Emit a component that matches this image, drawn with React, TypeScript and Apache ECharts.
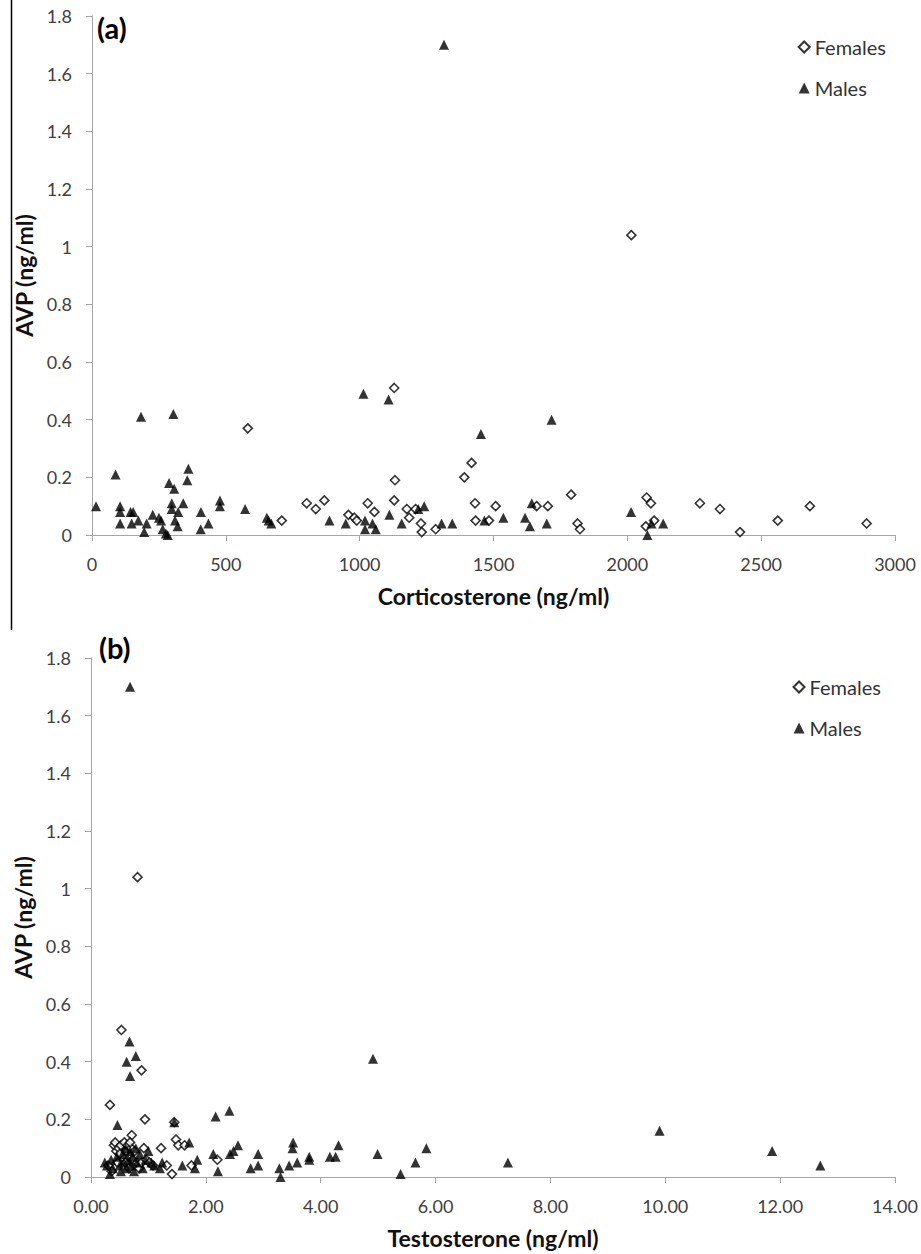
import React, { useEffect, useRef } from "react";
import * as echarts from "echarts";

// (a) Corticosterone (ng/ml) vs AVP (ng/ml)
const corticoFemales: number[][] = [
  [582, 0.37], [709, 0.05], [802, 0.11], [836, 0.09], [868, 0.12], [958, 0.07], [980, 0.06],
  [989, 0.05], [1030, 0.11], [1055, 0.08], [1132, 0.19], [1129, 0.12], [1129, 0.51], [1176, 0.09],
  [1185, 0.06], [1209, 0.09], [1229, 0.04], [1232, 0.01], [1284, 0.02], [1391, 0.2], [1418, 0.25],
  [1431, 0.11], [1433, 0.05], [1483, 0.05], [1508, 0.1], [1661, 0.1], [1703, 0.1], [1790, 0.14],
  [1814, 0.04], [1823, 0.02], [2015, 1.04], [2072, 0.13], [2088, 0.11], [2069, 0.03], [2100, 0.05],
  [2271, 0.11], [2346, 0.09], [2421, 0.01], [2562, 0.05], [2682, 0.1], [2894, 0.04],
];
const corticoMales: number[][] = [
  [15, 0.1], [88, 0.21], [105, 0.1], [105, 0.08], [105, 0.04], [144, 0.08], [154, 0.08], [148, 0.04],
  [173, 0.05], [183, 0.41], [195, 0.01], [204, 0.04], [227, 0.07], [250, 0.06], [258, 0.05],
  [264, 0.02], [276, 0.005], [283, 0.0], [288, 0.18], [307, 0.16], [298, 0.11], [298, 0.09],
  [304, 0.42], [322, 0.08], [341, 0.11], [310, 0.05], [320, 0.03], [360, 0.23], [356, 0.19],
  [407, 0.08], [406, 0.02], [435, 0.04], [478, 0.12], [478, 0.1], [572, 0.09], [653, 0.06],
  [660, 0.05], [670, 0.04], [887, 0.05], [948, 0.04], [1014, 0.49], [1020, 0.05], [1020, 0.02],
  [1048, 0.04], [1060, 0.02], [1108, 0.47], [1111, 0.07], [1157, 0.04], [1219, 0.09], [1241, 0.1],
  [1306, 0.04], [1315, 1.7], [1346, 0.04], [1453, 0.35], [1466, 0.05], [1537, 0.06], [1618, 0.06],
  [1636, 0.03], [1643, 0.11], [1699, 0.04], [1717, 0.4], [2014, 0.08], [2075, 0.0], [2090, 0.04],
  [2134, 0.04],
];

// (b) Testosterone (ng/ml) vs AVP (ng/ml)
const testoFemales: number[][] = [
  [0.53, 0.51], [0.81, 1.04], [0.88, 0.37], [0.33, 0.25], [0.94, 0.2], [1.45, 0.19], [1.48, 0.13],
  [1.52, 0.11], [1.63, 0.11], [1.75, 0.04], [2.2, 0.06], [0.71, 0.145], [1.22, 0.1], [1.32, 0.04],
  [1.41, 0.01], [0.3, 0.04], [0.36, 0.02], [0.4, 0.11], [0.42, 0.12], [0.44, 0.09], [0.46, 0.05],
  [0.48, 0.1], [0.52, 0.11], [0.55, 0.07], [0.58, 0.12], [0.6, 0.05], [0.62, 0.09], [0.64, 0.11],
  [0.66, 0.03], [0.7, 0.1], [0.73, 0.06], [0.76, 0.09], [0.8, 0.05], [0.84, 0.03], [0.88, 0.05],
  [0.92, 0.1], [0.96, 0.06], [1.02, 0.05], [1.08, 0.04], [0.5, 0.08], [0.68, 0.12],
];
const testoMales: number[][] = [
  [0.68, 1.7], [0.67, 0.47], [0.62, 0.4], [0.78, 0.42], [0.68, 0.35], [0.46, 0.18], [1.45, 0.19],
  [1.71, 0.12], [1.59, 0.04], [1.81, 0.03], [1.85, 0.06], [2.17, 0.21], [2.41, 0.23], [2.13, 0.08],
  [2.21, 0.02], [2.42, 0.08], [2.48, 0.09], [2.56, 0.11], [2.78, 0.03], [2.91, 0.08], [2.91, 0.04],
  [3.28, 0.03], [3.3, 0.0], [3.45, 0.04], [3.52, 0.12], [3.51, 0.1], [3.59, 0.05], [3.8, 0.07],
  [3.8, 0.06], [4.16, 0.07], [4.26, 0.07], [4.31, 0.11], [4.91, 0.41], [4.99, 0.08], [5.39, 0.01],
  [5.65, 0.05], [5.84, 0.1], [7.26, 0.05], [9.9, 0.16], [11.86, 0.09], [12.7, 0.04], [1.24, 0.05],
  [1.2, 0.03], [0.24, 0.05], [0.28, 0.04], [0.33, 0.01], [0.35, 0.06], [0.38, 0.03], [0.45, 0.07],
  [0.5, 0.04], [0.52, 0.02], [0.55, 0.08], [0.57, 0.05], [0.6, 0.1], [0.62, 0.03], [0.65, 0.06],
  [0.68, 0.09], [0.7, 0.04], [0.72, 0.07], [0.75, 0.02], [0.78, 0.1], [0.8, 0.05], [0.85, 0.08],
  [0.9, 0.03], [0.95, 0.06], [1.0, 0.09], [1.05, 0.05], [1.1, 0.04],
];

const yTicksMax = 1.8;
const corticoMax = 3000;
const testoMax = 14;

const FONT = "Lato, 'Open Sans', 'DejaVu Sans', sans-serif";
const AXIS_COLOR = "#a6a6a6";
const LABEL_COLOR = "#404040";

function makeAxes(gridIndex: number, xMax: number, xInterval: number, xName: string, xFmt: (v: number) => string) {
  const xAxis = {
    type: "value",
    gridIndex,
    min: 0,
    max: xMax,
    interval: xInterval,
    name: xName,
    nameLocation: "middle",
    nameGap: 49,
    nameTextStyle: { fontFamily: FONT, fontWeight: "bold", fontSize: 23, color: "#111" },
    axisLine: { show: true, lineStyle: { color: AXIS_COLOR, width: 1 } },
    axisTick: { show: true, length: 6, lineStyle: { color: AXIS_COLOR } },
    axisLabel: { margin: 20, fontSize: 18, color: LABEL_COLOR, fontFamily: FONT, formatter: xFmt },
    splitLine: { show: false },
  };
  const yAxis = {
    type: "value",
    gridIndex,
    min: 0,
    max: yTicksMax,
    interval: 0.2,
    name: "AVP (ng/ml)",
    nameLocation: "middle",
    nameGap: 52,
    nameTextStyle: { fontFamily: FONT, fontWeight: "bold", fontSize: 23, color: "#111" },
    axisLine: { show: true, lineStyle: { color: AXIS_COLOR, width: 1 } },
    axisTick: { show: true, length: 6, lineStyle: { color: AXIS_COLOR } },
    axisLabel: {
      margin: 20,
      fontSize: 18,
      color: LABEL_COLOR,
      fontFamily: FONT,
      formatter: (v: number) => String(+v.toFixed(1)),
    },
    splitLine: { show: false },
  };
  return { xAxis, yAxis };
}

export default function App() {
  const ref = useRef<HTMLDivElement>(null);
  useEffect(() => {
    if (!ref.current) return;
    const chart = echarts.init(ref.current, undefined, { renderer: "svg" });
    const a = makeAxes(0, corticoMax, 500, "Corticosterone (ng/ml)", (v: number) => String(v));
    const b = makeAxes(1, testoMax, 2, "Testosterone (ng/ml)", (v: number) => v.toFixed(2));
    const femaleStyle = { color: "#ffffff", borderColor: "#000000", borderWidth: 1.6 };
    const maleStyle = { color: "#000000" };
    const legendCommon = {
      orient: "vertical",
      right: 30,
      itemWidth: 11,
      itemHeight: 11,
      itemGap: 21,
      textStyle: { fontSize: 20, color: "#333", fontFamily: FONT },
    };
    chart.setOption({
      animation: false,
      backgroundColor: "#ffffff",
      grid: [
        { left: 92, top: 16, width: 803, height: 519 },
        { left: 91, top: 658, width: 804, height: 519 },
      ],
      xAxis: [a.xAxis, b.xAxis],
      yAxis: [a.yAxis, b.yAxis],
      legend: [
        { ...legendCommon, top: 32, data: ["Females", "Males"] },
        { ...legendCommon, top: 672, data: ["Females ", "Males "] },
      ],
      series: [
        {
          name: "Females",
          type: "scatter",
          xAxisIndex: 0,
          yAxisIndex: 0,
          symbol: "diamond",
          symbolSize: 9,
          itemStyle: femaleStyle,
          data: corticoFemales,
        },
        {
          name: "Males",
          type: "scatter",
          xAxisIndex: 0,
          yAxisIndex: 0,
          symbol: "triangle",
          symbolSize: 10,
          itemStyle: maleStyle,
          data: corticoMales,
        },
        {
          name: "Females ",
          type: "scatter",
          xAxisIndex: 1,
          yAxisIndex: 1,
          symbol: "diamond",
          symbolSize: 9,
          itemStyle: femaleStyle,
          data: testoFemales,
        },
        {
          name: "Males ",
          type: "scatter",
          xAxisIndex: 1,
          yAxisIndex: 1,
          symbol: "triangle",
          symbolSize: 10,
          itemStyle: maleStyle,
          data: testoMales,
        },
      ],
      graphic: [
        {
          type: "text",
          left: 97,
          top: 13,
          style: { text: "(a)", fontSize: 29, fontWeight: "bold", fill: "#000", fontFamily: FONT },
        },
        {
          type: "text",
          left: 99,
          top: 633,
          style: { text: "(b)", fontSize: 29, fontWeight: "bold", fill: "#000", fontFamily: FONT },
        },
        {
          type: "line",
          shape: { x1: 11.5, y1: 0, x2: 11.5, y2: 630 },
          style: { stroke: "#000", lineWidth: 1.5 },
        },
      ],
    });
    return () => chart.dispose();
  }, []);
  return (
    <div
      ref={ref}
      style={{ position: "absolute", left: 0, top: 0, width: 921, height: 1254, background: "#fff" }}
    />
  );
}
